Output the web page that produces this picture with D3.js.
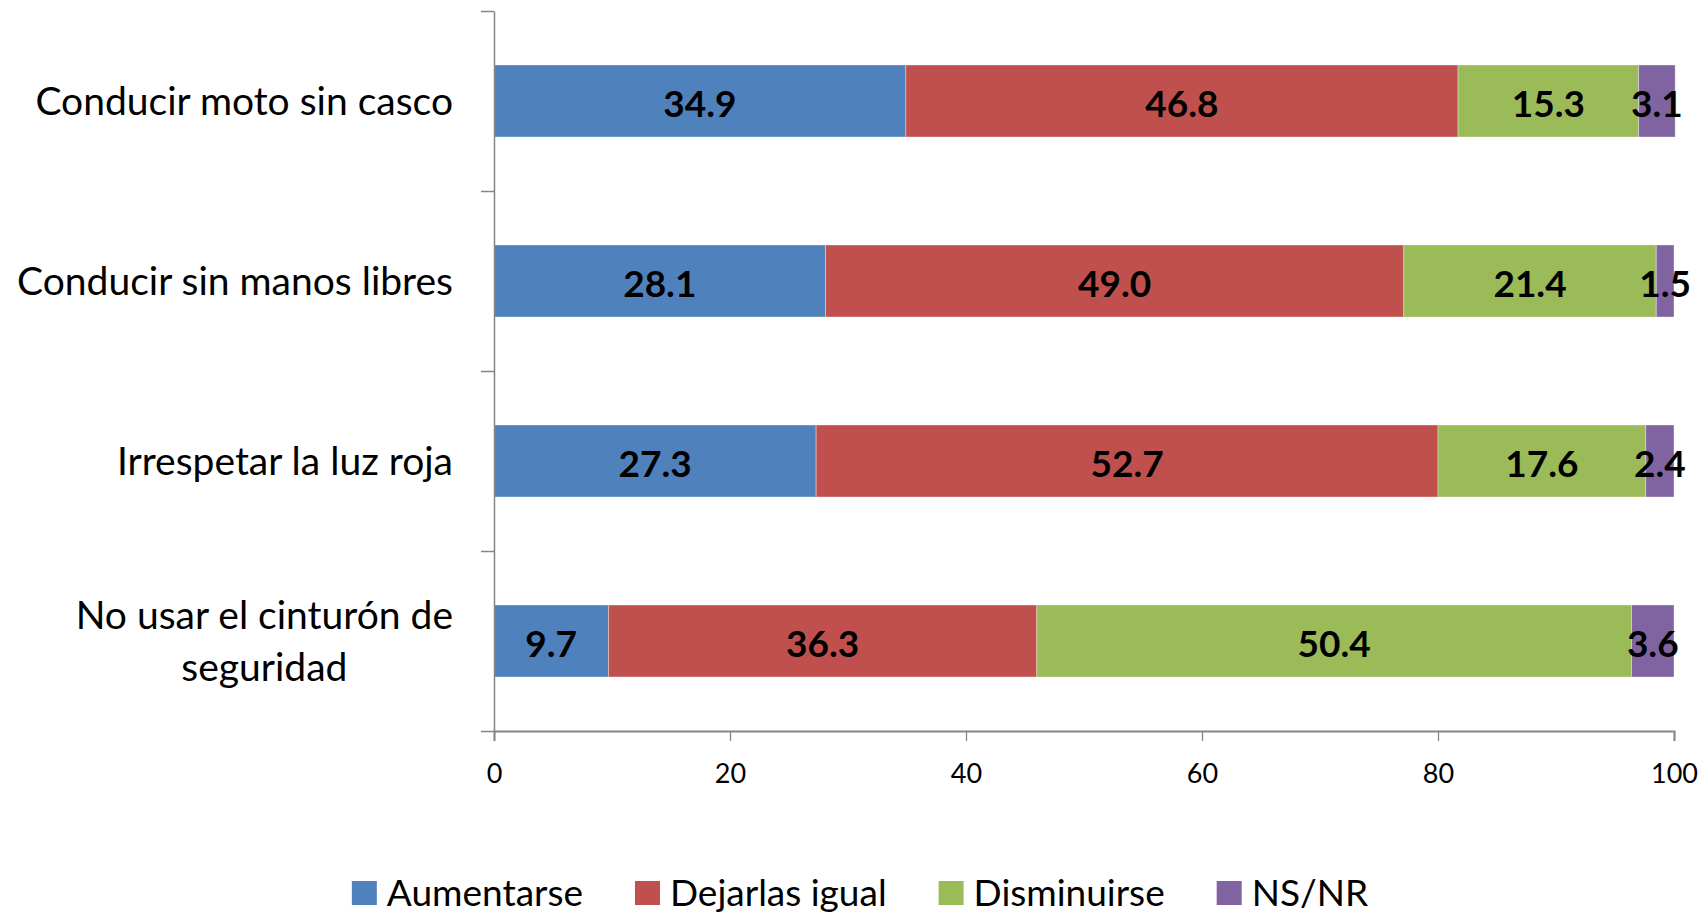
<!DOCTYPE html>
<html>
<head>
<meta charset="utf-8">
<script src="https://cdn.jsdelivr.net/npm/d3@7"></script>
<style>
  body { margin: 0; background: #fff; }
  svg { display: block; font-family: Lato, "Noto Sans", sans-serif; }
</style>
</head>
<body>
<div id="chart"></div>
<script>
const categories = ["Conducir moto sin casco", "Conducir sin manos libres", "Irrespetar la luz roja", "No usar el cinturón de seguridad"];
const categoryLines = [["Conducir moto sin casco"], ["Conducir sin manos libres"], ["Irrespetar la luz roja"], ["No usar el cinturón de", "seguridad"]];
const seriesNames = ["Aumentarse", "Dejarlas igual", "Disminuirse", "NS/NR"];
const aumentarse = [34.9, 28.1, 27.3, 9.7];
const dejarlasIgual = [46.8, 49.0, 52.7, 36.3];
const disminuirse = [15.3, 21.4, 17.6, 50.4];
const nsnr = [3.1, 1.5, 2.4, 3.6];
const xTicks = [0, 20, 40, 60, 80, 100];
const colors = ["#4f81bd", "#c0504d", "#9bbb59", "#8064a2"];

function chart() {
    const width = 1700,
        height = 916;

    const svg = d3.select("#chart").append("svg")
        .attr("width", width)
        .attr("height", height);

    const x = d3.scaleLinear().domain([0, 100]).range([494, 1674]);
    const y = d3.scaleBand().domain(categories).range([11, 731])
        .paddingInner(0.6).paddingOuter(0.3);

    const seriesValues = [aumentarse, dejarlasIgual, disminuirse, nsnr];
    const table = categories.map((c, i) => {
        const row = {category: c};
        seriesNames.forEach((s, j) => row[s] = seriesValues[j][i]);
        return row;
    });
    const stacked = d3.stack().keys(seriesNames)(table);

    // bars
    const groups = svg.append("g").selectAll("g").data(stacked)
        .join("g")
        .attr("fill", (d, i) => colors[i]);

    groups.selectAll("rect").data(d => d)
        .join("rect")
        .attr("x", d => x(d[0]))
        .attr("y", d => y(d.data.category))
        .attr("width", d => x(d[1]) - x(d[0]))
        .attr("height", y.bandwidth())
        .attr("stroke", "#fff")
        .attr("stroke-opacity", 0.35)
        .attr("stroke-width", 1);

    // value labels
    svg.append("g").selectAll("g").data(stacked)
        .join("g")
        .selectAll("text").data(d => d.map(v => ({v: v, key: d.key})))
        .join("text")
        .attr("x", d => (x(d.v[0]) + x(d.v[1])) / 2)
        .attr("y", d => y(d.v.data.category) + y.bandwidth() / 2)
        .attr("dy", "0.42em")
        .attr("text-anchor", "middle")
        .attr("font-size", 37)
        .attr("font-weight", "bold")
        .attr("fill", "#000")
        .text(d => d.v.data[d.key].toFixed(1));

    // x axis
    const xAxis = svg.append("g")
        .attr("transform", `translate(0,${731})`)
        .call(d3.axisBottom(x).tickValues(xTicks).tickSize(10).tickPadding(23));
    xAxis.select(".domain").attr("stroke", "#868686").attr("stroke-width", 2);
    xAxis.selectAll(".tick line").attr("stroke", "#868686").attr("stroke-width", 1.3);
    xAxis.selectAll(".tick text").attr("font-size", 27).attr("font-family", "Lato, sans-serif").attr("fill", "#000");

    // y axis with ticks on category boundaries
    const yEdges = d3.scaleLinear().domain([0, categories.length]).range([11, 731]);
    const yAxis = svg.append("g")
        .attr("transform", `translate(${x(0)},0)`)
        .call(d3.axisLeft(yEdges).tickValues(d3.range(categories.length + 1)).tickSize(13).tickFormat("").tickSizeOuter(0));
    yAxis.select(".domain").attr("stroke", "#868686").attr("stroke-width", 1.5);
    yAxis.selectAll(".tick line").attr("stroke", "#868686").attr("stroke-width", 1.5);

    // category labels
    const lineH = 52;
    const labels = svg.append("g").selectAll("text").data(categories)
        .join("text")
        .attr("font-size", 39)
        .attr("fill", "#000")
        .attr("text-anchor", "middle");

    labels.each(function(c, i) {
        const lines = categoryLines[i];
        const t = d3.select(this);
        const cy = y(c) + y.bandwidth() / 2;
        const top = cy - (lines.length - 1) * lineH / 2;
        lines.forEach((ln, k) => {
            t.append("tspan")
                .attr("y", top + k * lineH)
                .attr("dy", "0.36em")
                .text(ln);
        });
        // right-align the block, lines centered within it
        const w = d3.max(t.selectAll("tspan").nodes(), n => n.getComputedTextLength());
        t.selectAll("tspan").attr("x", 453 - w / 2);
    });

    // legend
    const legend = svg.append("g").attr("font-size", 37);
    const items = legend.selectAll("g").data(seriesNames)
        .join("g");
    items.append("rect")
        .attr("width", 25)
        .attr("height", 24)
        .attr("y", 881)
        .attr("fill", (d, i) => colors[i]);
    items.append("text")
        .attr("x", 35)
        .attr("y", 893)
        .attr("dy", "0.36em")
        .attr("fill", "#000")
        .text(d => d);

    let offset = 0;
    const gap = 52;
    const widths = [];
    items.each(function() {
        const w = 35 + d3.select(this).select("text").node().getComputedTextLength();
        widths.push(w);
    });
    const total = d3.sum(widths) + gap * (widths.length - 1);
    const start = 860 - total / 2;
    items.attr("transform", (d, i) => {
        const tx = start + offset;
        offset += widths[i] + gap;
        return `translate(${tx},0)`;
    });
}

window.onload = function() {
    chart();
};
</script>
</body>
</html>
